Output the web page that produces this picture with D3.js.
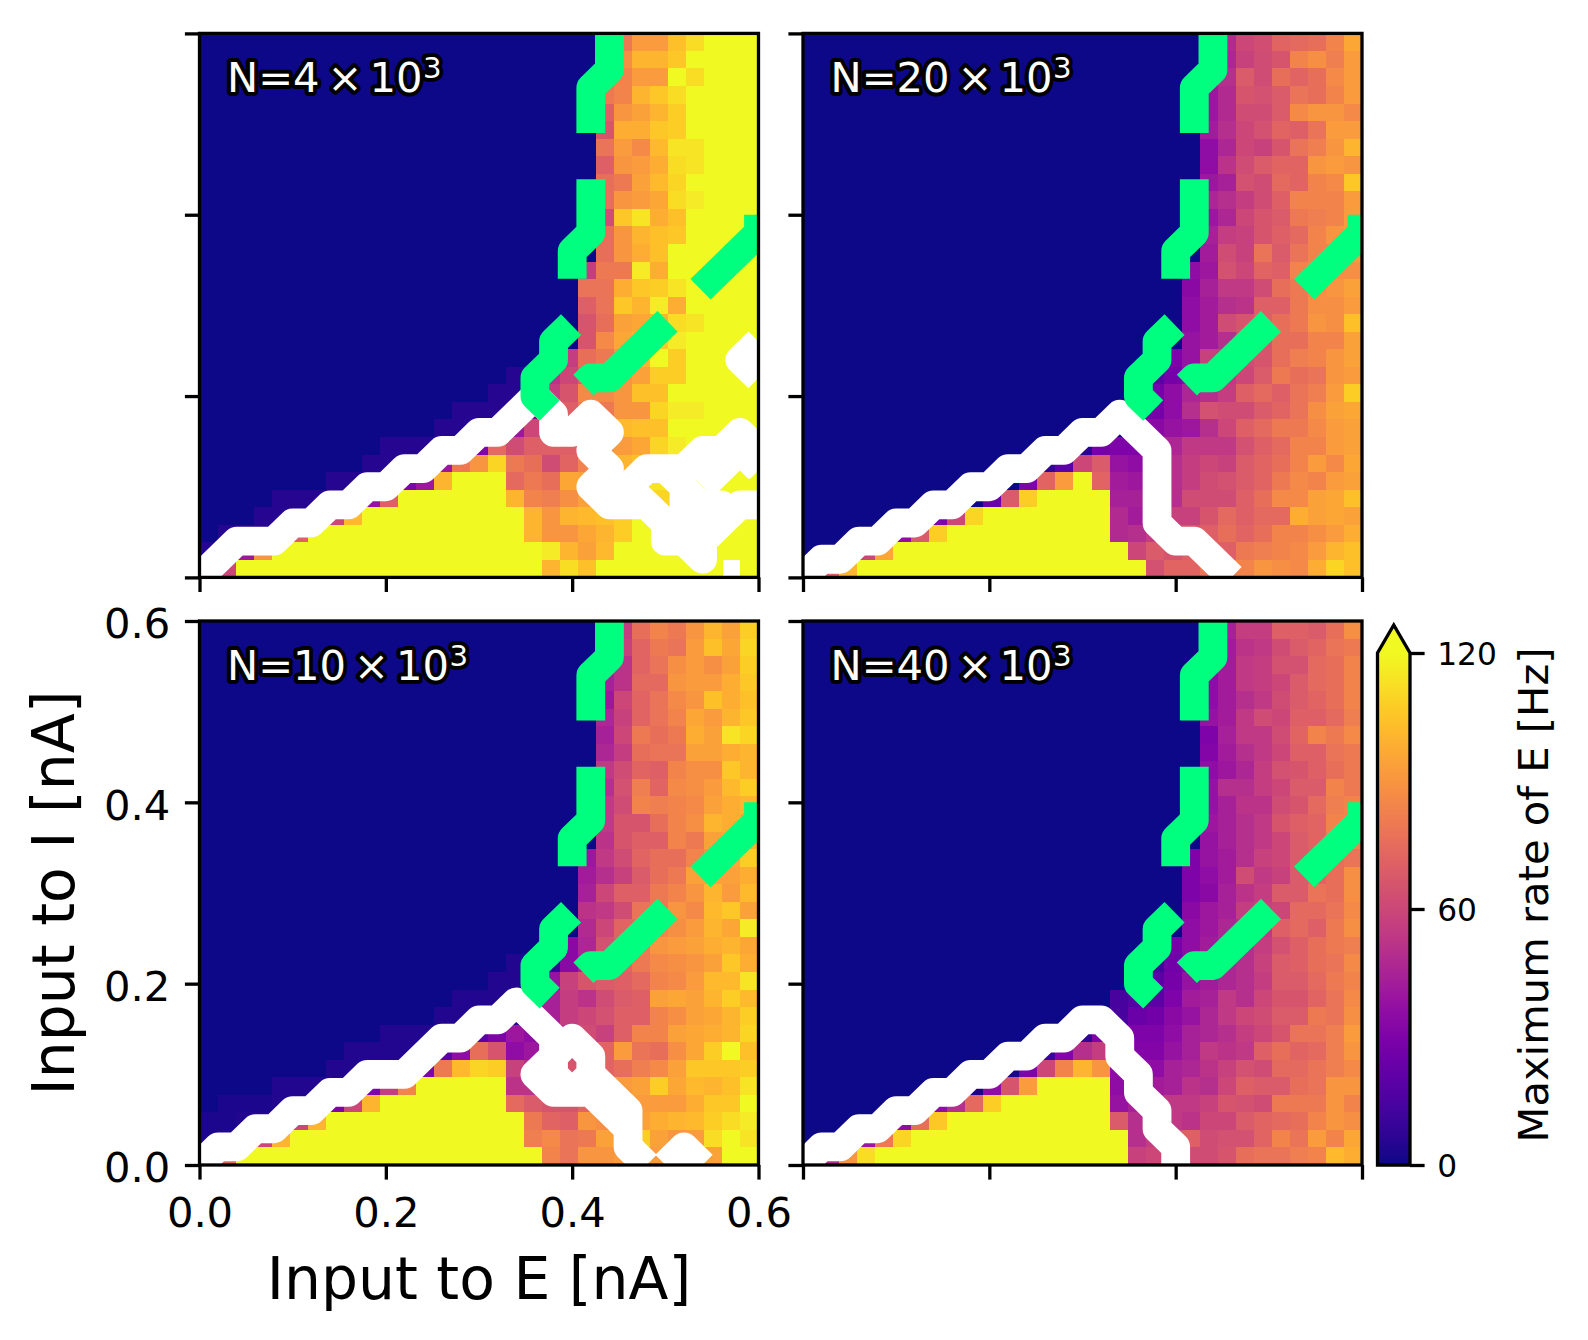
<!DOCTYPE html>
<html>
<head>
<meta charset="utf-8">
<script src="https://cdn.jsdelivr.net/npm/d3@7/dist/d3.min.js"></script>
<style>
html,body{margin:0;padding:0;background:#fff}
svg{display:block}
text{font-family:"DejaVu Sans";fill:#000}
</style>
</head>
<body>
<svg id="fig" width="1588" height="1340"></svg>
<script>
// Maximum rate of E [Hz] per cell, rows from top to bottom. Rows are right-aligned:
// cells left out at the start of a row are silent (0 Hz). 125 = above the colour limit, null = no data.
const rateN4 = [
[70,80,92,92,104,112,125,125,125],
[70,88,100,100,106,125,125,125,125],
[70,84,92,92,125,112,125,125,125],
[80,84,100,106,112,125,125,125,125],
[70,90,94,100,108,125,125,125,125],
[66,98,98,106,108,125,125,125,125],
[78,92,86,102,114,114,125,125,125],
[70,90,92,98,112,114,125,125,125],
[76,80,94,102,110,125,125,125,125],
[76,90,92,96,112,116,125,125,125],
[62,106,114,98,104,125,125,125,125],
[76,90,100,104,106,125,125,125,125],
[76,90,98,104,125,125,125,125,125],
[56,80,80,116,98,125,125,125,125,125],
[78,78,98,106,108,114,125,125,125,125],
[70,78,106,100,116,98,125,125,125,125],
[66,76,94,96,100,112,114,125,125,125],
[66,86,96,100,106,116,125,125,125,125],
[56,76,80,90,100,125,108,125,125,125,125],
[5,8,52,60,70,80,90,94,108,108,125,125,125,125],
[5,5,20,56,66,86,86,90,104,104,125,125,125,125,125],
[5,5,5,10,30,56,70,80,80,90,90,110,116,116,125,125,125],
[5,5,5,5,40,60,64,70,80,90,102,104,104,125,125,125,125,125],
[5,5,5,5,8,30,74,62,70,70,70,80,88,92,96,110,116,125,125,125,125],
[5,5,5,10,40,80,90,110,80,76,62,72,84,94,100,104,108,125,125,125,125,125],
[5,5,5,10,30,40,100,125,125,125,74,80,76,96,94,100,104,108,114,108,125,125,125,125],
[5,5,5,5,8,38,70,125,125,125,125,125,125,100,84,82,88,94,100,104,108,110,110,125,125,125,125],
[5,5,5,20,60,102,125,125,125,125,125,125,125,125,125,100,90,100,102,104,108,125,125,125,125,125,125,125],
[5,5,5,30,70,125,125,125,125,125,125,125,125,125,125,125,125,100,90,90,96,100,108,125,125,125,125,125,125,125],
[5,8,40,90,125,125,125,125,125,125,125,125,125,125,125,125,125,125,125,116,100,94,102,125,125,125,125,125,125,125,125],
[20,60,125,125,125,125,125,125,125,125,125,125,125,125,125,125,125,125,125,100,112,104,125,125,125,125,125,125,125,null,125]
];
const rateN20 = [
[40,48,60,63,72,74,76,84,96],
[40,46,58,62,66,84,88,82,92],
[40,50,68,62,76,72,76,86,92],
[40,48,66,64,68,78,76,84,92],
[40,48,62,62,68,86,90,90,86],
[42,50,60,64,72,70,78,92,92],
[36,46,60,58,66,78,82,90,100],
[36,52,62,68,72,72,90,92,90],
[40,44,64,62,74,72,84,86,106],
[46,50,56,62,70,84,84,84,92],
[40,46,60,66,68,80,82,84,92],
[44,56,58,66,70,74,84,90,92],
[42,62,58,78,68,78,84,84,92],
[36,40,64,60,72,70,84,86,88,88],
[34,44,54,54,62,76,80,88,90,94],
[36,42,50,52,70,70,80,88,88,92],
[36,42,62,66,70,76,80,90,88,104],
[38,42,50,60,66,76,76,84,84,94],
[30,38,58,58,62,66,76,82,84,90,94],
[20,28,36,48,54,60,68,80,76,78,90,92],
[28,36,46,50,56,70,74,70,78,82,92,108],
[4,28,36,50,64,62,62,68,72,78,88,94,96],
[28,34,38,40,50,60,70,74,80,80,86,92,94],
[4,6,28,30,30,40,46,54,54,54,64,70,74,84,84,92,94],
[8,20,60,68,38,36,42,50,56,60,58,68,72,76,84,92,86,96],
[30,72,92,125,72,42,40,44,50,56,62,64,68,72,80,86,84,92,94],
[24,68,108,125,125,125,125,44,44,50,50,62,62,62,70,76,86,86,94,96,104],
[30,60,110,125,125,125,125,125,125,125,48,42,50,58,58,66,74,70,74,74,98,94,96,94],
[36,68,108,125,125,125,125,125,125,125,125,125,48,50,56,62,66,70,76,72,76,84,84,88,92,98],
[60,96,125,125,125,125,125,125,125,125,125,125,125,125,125,60,68,66,70,74,70,80,82,84,86,92,100,104],
[2,70,100,125,125,125,125,125,125,125,125,125,125,125,125,125,125,125,125,64,72,72,78,82,84,90,88,86,98,110,104]
];
const rateN10 = [
[50,56,76,84,80,90,100,94,108],
[50,58,72,80,78,92,104,96,110],
[50,52,72,78,88,92,88,94,108],
[44,52,74,74,90,92,92,98,106],
[40,60,72,78,86,90,104,98,104],
[46,58,72,78,84,96,92,100,106],
[44,60,80,76,80,98,94,114,110],
[46,56,76,78,78,94,94,98,100],
[54,62,72,70,84,88,88,106,100],
[50,64,82,72,86,88,92,102,108],
[54,62,84,82,84,86,94,98,100],
[54,66,66,76,84,88,100,98,96],
[52,66,70,70,84,80,94,96,98],
[40,54,62,72,76,76,84,88,96,108],
[42,50,58,68,76,80,94,94,94,98],
[44,60,70,70,80,84,90,100,92,102],
[52,54,62,78,80,90,86,102,106,94],
[48,60,72,74,84,88,92,100,96,116],
[34,46,64,70,80,90,92,94,98,100,96],
[4,4,8,34,44,60,72,80,86,88,90,94,106,98],
[4,4,10,38,58,66,68,70,74,84,86,92,102,102,114],
[4,4,4,8,10,44,56,52,62,68,70,94,96,94,100,108,102],
[4,4,4,4,8,30,44,56,60,64,70,70,84,88,94,96,100,108],
[4,4,4,4,4,20,30,40,36,44,50,62,58,70,84,84,94,96,98,100,110],
[4,4,4,4,6,20,36,76,66,36,40,50,56,62,72,92,78,76,88,96,108,125,104],
[4,4,4,4,6,30,80,102,110,108,58,50,56,66,68,72,76,82,86,94,106,106,106,108],
[4,4,4,4,4,30,56,84,125,125,125,125,125,52,52,58,62,70,80,92,94,108,96,102,100,104,114],
[3,3,3,4,4,6,30,60,100,125,125,125,125,125,125,125,74,68,66,66,72,80,84,92,92,92,98,106,106,122],
[3,3,4,4,30,60,100,125,125,125,125,125,125,125,125,125,125,125,80,72,70,90,88,90,94,98,100,102,108,112,116],
[3,4,30,60,100,125,125,125,125,125,125,125,125,125,125,125,125,125,82,86,78,80,94,100,108,94,90,92,112,125,114],
[3,74,125,125,125,125,125,125,125,125,125,125,125,125,125,125,125,125,125,84,78,90,90,92,92,92,94,96,94,125,125]
];
const rateN40 = [
[36,44,56,56,70,70,68,76,88],
[36,42,52,54,62,68,72,78,80],
[36,42,54,56,64,64,74,76,84],
[36,42,54,56,60,68,74,76,84],
[36,42,50,54,62,68,72,76,84],
[38,42,54,62,60,70,70,74,82],
[30,44,54,54,62,72,84,80,86],
[32,42,50,54,60,70,70,78,80],
[36,40,46,56,64,66,70,76,80],
[38,50,50,56,60,68,68,84,80],
[38,44,52,52,62,66,74,82,84],
[40,44,50,54,66,70,72,84,84],
[38,44,50,54,60,68,72,82,84],
[30,38,42,50,58,60,68,70,76,78],
[30,36,42,62,54,58,68,72,76,88],
[30,34,44,52,56,68,68,78,76,88],
[34,40,44,56,58,60,74,74,78,86],
[36,40,46,50,54,70,74,70,80,88],
[28,36,42,46,50,56,64,70,76,80,82],
[12,26,30,40,46,50,58,68,70,76,78,86],
[20,28,38,42,46,50,56,68,68,74,80,84],
[14,18,20,30,42,44,54,50,60,66,66,72,78,86],
[2,6,14,24,26,34,38,46,54,60,62,68,68,80,78,88],
[2,2,8,30,30,30,30,36,44,46,50,56,60,66,78,78,82,92],
[2,10,32,50,56,40,32,32,38,44,54,52,54,70,76,72,74,82,90],
[2,30,60,84,100,90,36,36,36,44,46,52,58,64,62,74,74,78,82,86],
[2,36,66,92,125,125,125,125,36,40,42,44,52,50,60,70,68,68,76,78,90,90],
[36,50,74,108,125,125,125,125,125,125,38,44,50,54,54,58,66,64,62,80,80,80,90,84],
[36,76,106,125,125,125,125,125,125,125,125,125,68,50,54,54,52,60,60,68,72,74,76,84,90,88],
[40,80,110,125,125,125,125,125,125,125,125,125,125,125,125,50,56,62,70,62,64,64,72,84,78,92,84,96],
[2,50,90,112,125,125,125,125,125,125,125,125,125,125,125,125,125,125,58,60,64,62,62,66,76,78,78,82,84,102,98]
];

// Contour vertices, in steps of the 0.02 nA input grid: [input to E, input to I]
const greenUpper = [[22,30],[22,28],[21,27],[21,19],[20,18],[20,14],[19,13],[19,12],[18,11],[18,10],[19,9]];
const greenLower = [[30,20],[30,19],[22,11],[21,11],[20,10]];
const whiteN4 = [
 [[0,0],[2,2],[4,2],[5,3],[6,3],[7,4],[8,4],[9,5],[10,5],[11,6],[12,6],[13,7],[14,7],[15,8],[16,8],[18,10],[19,9],[19,8],[20,8],[21,9],[22,8],[21,7],[22,6],[21,5],[22,4],[24,4],[25,3],[25,2],[26,2],[27,1],[27,2],[28,3],[29,4],[30,4]],
 [[22,4],[24,6],[26,6],[27,7],[28,7],[29,8],[30,7],[29,6]],
 [[27,5],[28,6],[29,7],[30,6]],
 [[23,5],[25,3],[26,3],[26,5],[25,6]],
 [[26,4],[28,4],[27,3],[26,3]],
 [[27,5],[26,4]],
 [[30,13],[29,12],[30,11]]
];
const whiteN20 = [
 [[0,0],[1,1],[2,1],[3,2],[4,2],[5,3],[6,3],[7,4],[8,4],[9,5],[10,5],[11,6],[12,6],[13,7],[14,7],[15,8],[16,8],[17,9],[19,7],[19,3],[20,2],[21,2],[23,0]]
];
const whiteN10 = [
 [[0,0],[1,1],[2,1],[3,2],[4,2],[5,3],[6,3],[7,4],[8,4],[9,5],[11,5],[13,7],[14,7],[15,8],[16,8],[17,9],[19,7],[19,6],[20,7],[21,6],[21,5],[20,4],[19,5],[19,6],[18,5],[19,4],[21,4],[23,2]],
 [[21,5],[23,3],[23,1],[24,0]],
 [[25,0],[26,1],[27,0]]
];
const whiteN40 = [
 [[0,0],[1,1],[2,1],[3,2],[4,2],[5,3],[6,3],[7,4],[8,4],[9,5],[10,5],[11,6],[12,6],[13,7],[14,7],[15,8],[16,8],[17,7],[17,6],[18,5],[18,4],[19,3],[19,2],[20,1],[20,0]]
];

const axisTicks = [0,0.2,0.4,0.6];
const colorTicks = [0,60,120];
const xLabelText = "Input to E [nA]";
const yLabelText = "Input to I [nA]";
const colorLabelText = "Maximum rate of E [Hz]";

const W = 559, H = 544;
const lefts = [199.5, 803], tops = [33.4, 621];
const lw = 3.3, tickLen = 14.6, pad = 14.6, lineW = 28.8;
const panels = [
 {rows:rateN4,  white:whiteN4,  col:0,row:0, n:"4"},
 {rows:rateN20, white:whiteN20, col:1,row:0, n:"20"},
 {rows:rateN10, white:whiteN10, col:0,row:1, n:"10"},
 {rows:rateN40, white:whiteN40, col:1,row:1, n:"40"}
];

const svg = d3.select("#fig");
const x = d3.scaleLinear().domain([0,0.6]).range([0,W]);
const y = d3.scaleLinear().domain([0,0.6]).range([H,0]);
const cellX = d3.scaleBand().domain(d3.range(31)).range([0,W]);
const cellY = d3.scaleBand().domain(d3.range(31)).range([0,H]);
const color = v => d3.interpolatePlasma(Math.min(v,120)/120);
const step = 0.02;
const line = d3.line().x(d=>x(d[0]*step)).y(d=>y(d[1]*step)).curve(d3.curveLinear);

panels.forEach((p,k)=>{
  const g = svg.append("g").attr("transform",`translate(${lefts[p.col]},${tops[p.row]})`);
  const clipId = "clip"+k;
  svg.append("clipPath").attr("id",clipId).append("rect").attr("width",W).attr("height",H);
  const body = g.append("g").attr("clip-path",`url(#${clipId})`);
  const cells = [];
  p.rows.forEach((r,ri)=>{
    const full = new Array(31-r.length).fill(0).concat(r);
    full.forEach((v,ci)=>{ if(v!==null) cells.push({ri,ci,v}); });
  });
  body.append("g").attr("shape-rendering","crispEdges").selectAll("rect").data(cells).join("rect")
    .attr("x",d=>cellX(d.ci)).attr("y",d=>cellY(d.ri))
    .attr("width",cellX.bandwidth()+0.5).attr("height",cellY.bandwidth()+0.5)
    .attr("fill",d=>color(d.v));
  body.append("g").selectAll("path").data(p.white).join("path")
    .attr("d",line).attr("fill","none").attr("stroke","#fff").attr("stroke-width",lineW)
    .attr("stroke-linejoin","round").attr("stroke-linecap","butt");
  [[greenUpper,"107.4 46.3"],[greenLower,"99 46.1 110 46.1"]].forEach(([pts,dash])=>{
    body.append("path").attr("d",line(pts)).attr("fill","none").attr("stroke","#00ff7f")
      .attr("stroke-width",lineW).attr("stroke-linejoin","round").attr("stroke-linecap","butt")
      .attr("stroke-dasharray",dash);
  });
  g.append("rect").attr("width",W).attr("height",H).attr("fill","none").attr("stroke","#000").attr("stroke-width",lw);

  const labelled = k===2;
  const ax = d3.axisBottom(x).tickValues(axisTicks).tickSize(tickLen).tickPadding(pad+3)
    .tickFormat(labelled?d3.format(".1f"):"");
  const ay = d3.axisLeft(y).tickValues(axisTicks).tickSize(tickLen).tickPadding(pad)
    .tickFormat(labelled?d3.format(".1f"):"");
  const gx = g.append("g").attr("transform",`translate(0,${H})`).call(ax);
  const gy = g.append("g").call(ay);
  gy.selectAll("text").attr("y",3.5);
  [gx,gy].forEach(a=>{
    a.select(".domain").remove();
    a.selectAll("line").attr("stroke","#000").attr("stroke-width",lw);
    a.selectAll("text").attr("font-family","DejaVu Sans").attr("font-size",41.67).attr("fill","#000");
  });

  const t = g.append("text").attr("x",27.5).attr("y",58.6).attr("font-size",41.67)
    .attr("stroke","#000").attr("stroke-width",8).attr("stroke-linejoin","round")
    .attr("paint-order","stroke").style("fill","#fff");
  t.append("tspan").text("N="+p.n);
  t.append("tspan").attr("dx",8).text("\u00d7");
  t.append("tspan").attr("dx",7).text("10");
  t.append("tspan").attr("dx",0.5).attr("dy",-14).attr("font-size",29.2).text("3");
});

// axis titles
svg.append("text").attr("x",479).attr("y",1299).attr("text-anchor","middle").attr("font-size",58.33).text(xLabelText);
svg.append("text").attr("transform","translate(74,893) rotate(-90)").attr("text-anchor","middle").attr("font-size",58.33).text(yLabelText);

// colour bar
const cbL = 1377.5, cbR = 1410, cbTip = 625;
const cy = d3.scaleLinear().domain([0,120]).range([1165,653]);
const defs = svg.append("defs");
const grad = defs.append("linearGradient").attr("id","plasmaGrad").attr("x1",0).attr("x2",0).attr("y1",1).attr("y2",0);
d3.range(0,1.001,0.05).forEach(t=>grad.append("stop").attr("offset",t).attr("stop-color",d3.interpolatePlasma(t)));
svg.append("rect").attr("x",cbL).attr("y",cy(120)).attr("width",cbR-cbL).attr("height",cy(0)-cy(120)).attr("fill","url(#plasmaGrad)");
const outline = `M${cbL},${cy(0)}L${cbL},${cy(120)}L${(cbL+cbR)/2},${cbTip}L${cbR},${cy(120)}L${cbR},${cy(0)}Z`;
const tip = `M${cbL},${cy(120)}L${(cbL+cbR)/2},${cbTip}L${cbR},${cy(120)}Z`;
svg.append("path").attr("d",tip).attr("fill",color(130));
svg.append("path").attr("d",outline).attr("fill","none").attr("stroke","#000").attr("stroke-width",lw);
const ac = svg.append("g").attr("transform",`translate(${cbR},0)`)
  .call(d3.axisRight(cy).tickValues(colorTicks).tickSize(tickLen).tickPadding(pad-2));
ac.select(".domain").remove();
ac.selectAll("line").attr("stroke","#000").attr("stroke-width",lw);
ac.selectAll("text").attr("y",1).attr("font-family","DejaVu Sans").attr("font-size",31.25).attr("fill","#000");
svg.append("text").attr("transform","translate(1548,895) rotate(-90)").attr("text-anchor","middle").attr("font-size",41.67).text(colorLabelText);
</script>
</body>
</html>
